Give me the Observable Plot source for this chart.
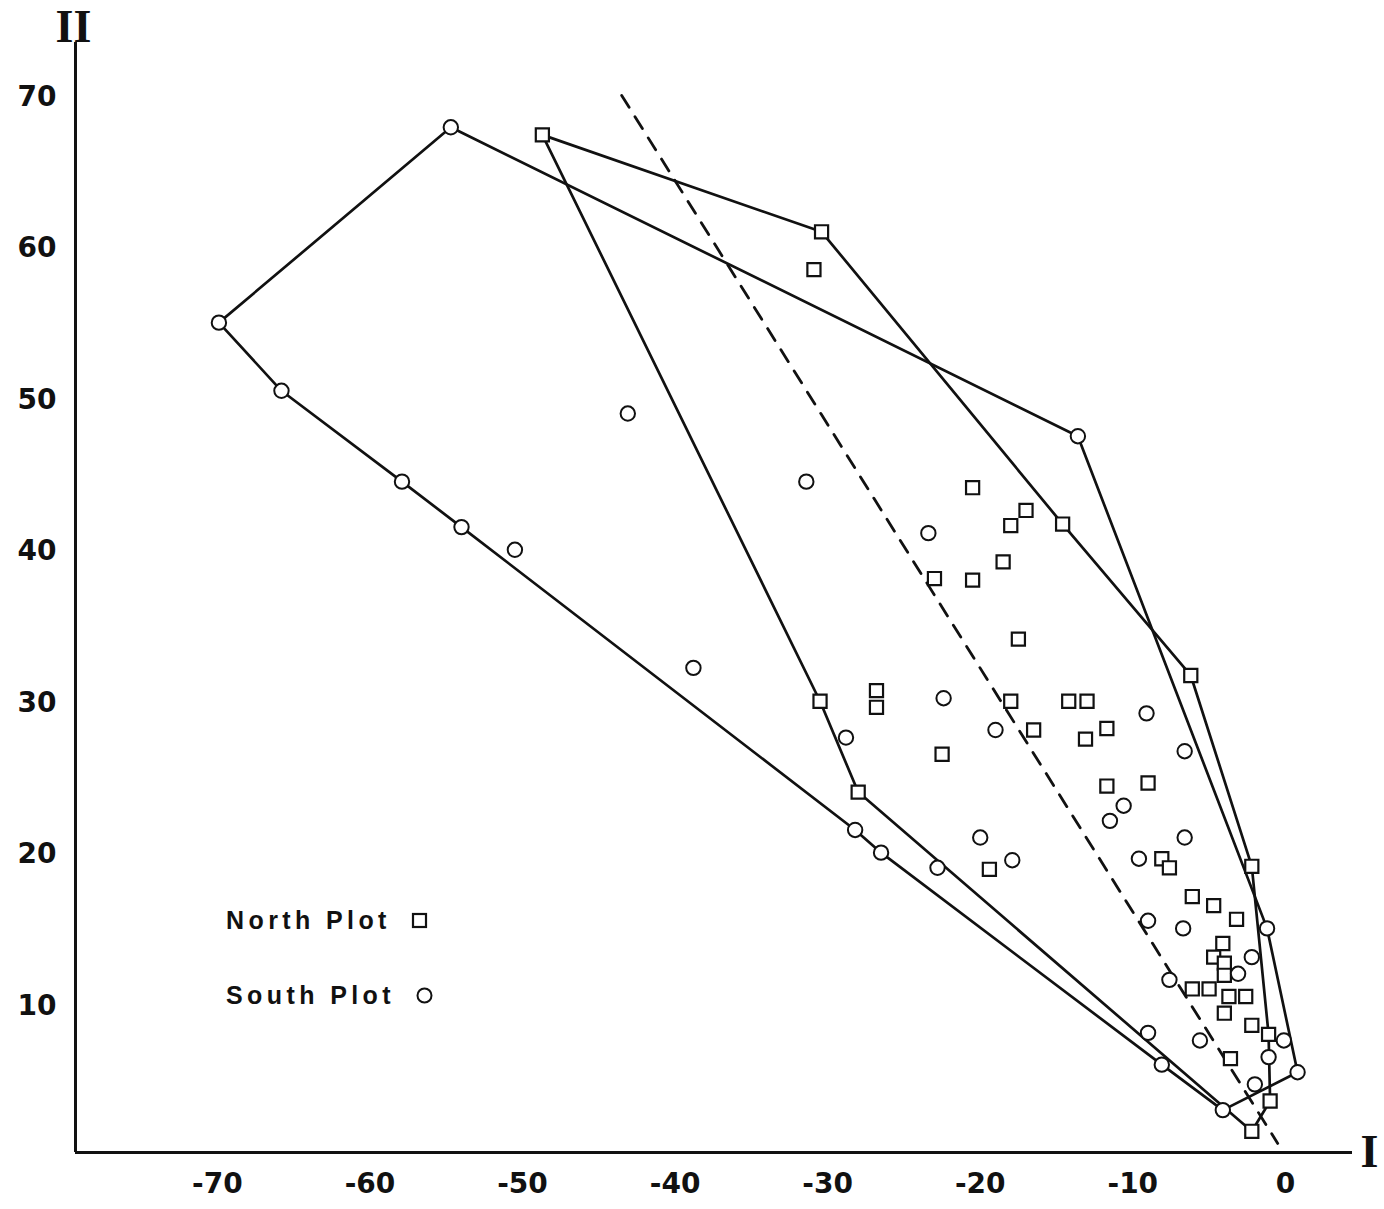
<!DOCTYPE html>
<html><head><meta charset="utf-8">
<script src="https://cdn.jsdelivr.net/npm/d3@7"></script>
<script src="https://cdn.jsdelivr.net/npm/@observablehq/plot@0.6"></script>
<style>
body{margin:0;background:#fff;}
#wrap{position:relative;width:1384px;height:1209px;}
#legend{position:absolute;left:226px;top:0;font-family:"Liberation Sans",Arial,sans-serif;font-weight:bold;font-size:25px;letter-spacing:4.4px;color:#111;}
.row{position:absolute;left:0;white-space:nowrap;display:flex;align-items:center;height:30px;}
.row svg{margin-left:20px;}
</style></head><body><div id="wrap"></div>
<script>
// Axis ticks
const xTicks = [-70, -60, -50, -40, -30, -20, -10, 0];
const yTicks = [10, 20, 30, 40, 50, 60, 70];

// North Plot (squares)
const northX = [-48.7,-30.4,-30.9,-20.5,-17.0,-18.0,-14.6,-18.5,-23.0,-20.5,-17.5,-26.8,-26.8,-30.5,-18.0,-14.2,-13.0,-16.5,-11.7,-13.1,-22.5,-11.7,-9.0,-28.0,-19.4,-8.1,-7.6,-2.2,-6.2,-6.1,-4.7,-3.2,-4.1,-4.7,-4.0,-4.0,-6.1,-5.0,-3.7,-2.6,-4.0,-2.2,-1.1,-3.6,-1.0,-2.2];
const northY = [67.5,61.1,58.6,44.2,42.7,41.7,41.8,39.3,38.2,38.1,34.2,30.8,29.7,30.1,30.1,30.1,30.1,28.2,28.3,27.6,26.6,24.5,24.7,24.1,19.0,19.7,19.1,19.2,31.8,17.2,16.6,15.7,14.1,13.2,12.8,12.0,11.1,11.1,10.6,10.6,9.5,8.7,8.1,6.5,3.7,1.7];

// South Plot (circles)
const southX = [-69.9,-54.7,-65.8,-57.9,-54.0,-50.5,-43.1,-38.8,-31.4,-23.4,-22.4,-28.8,-19.0,-9.1,-6.6,-10.6,-11.5,-20.0,-17.9,-9.6,-6.6,-28.2,-26.5,-22.8,-13.6,-9.0,-6.7,-1.2,-2.2,-3.1,-7.6,-9.0,-5.6,-0.1,-1.1,-8.1,0.8,-2.0,-4.1];
const southY = [55.1,68.0,50.6,44.6,41.6,40.1,49.1,32.3,44.6,41.2,30.3,27.7,28.2,29.3,26.8,23.2,22.2,21.1,19.6,19.7,21.1,21.6,20.1,19.1,47.6,15.6,15.1,15.1,13.2,12.1,11.7,8.2,7.7,7.7,6.6,6.1,5.6,4.8,3.1];

// Enclosing polygons (vertex order)
const northHullX = [-48.7,-30.4,-14.6,-6.2,-2.2,-1.1,-1.0,-2.2,-28.0,-30.5,-48.7];
const northHullY = [67.5,61.1,41.8,31.8,19.2,8.1,3.7,1.7,24.1,30.1,67.5];
const southHullX = [-69.9,-54.7,-13.6,-1.2,0.8,-4.1,-8.1,-26.5,-28.2,-54.0,-57.9,-65.8,-69.9];
const southHullY = [55.1,68.0,47.6,15.1,5.6,3.1,6.1,20.1,21.6,41.6,44.6,50.6,55.1];

// Dashed discriminant line
const dashX = [-43.5, -0.5];
const dashY = [70.1, 0.9];

const xDomain = [-79.3, 4.4];
const yDomain = [0.3, 73.6];

const zip = (xs, ys) => xs.map((x, i) => ({x, y: ys[i]}));
const north = zip(northX, northY);
const south = zip(southX, southY);
const northHull = zip(northHullX, northHullY);
const southHull = zip(southHullX, southHullY);
const dashed = zip(dashX, dashY);

const ink = "#111";
const chart = Plot.plot({
  width: 1384, height: 1209,
  marginLeft: 75, marginRight: 32, marginTop: 42, marginBottom: 57,
  style: {background: "white", color: ink, fontFamily: "'DejaVu Sans', sans-serif", fontSize: "28px", fontWeight: "bold", overflow: "visible"},
  x: {domain: xDomain, ticks: xTicks, tickSize: 0, tickPadding: 21, tickFormat: d => String(d), label: null},
  y: {domain: yDomain, ticks: yTicks, tickSize: 0, tickPadding: 19, tickFormat: d => String(d), label: null},
  marks: [
    Plot.ruleY([yDomain[0]], {stroke: ink, strokeWidth: 3}),
    Plot.ruleX([xDomain[0]], {stroke: ink, strokeWidth: 3}),
    Plot.line(dashed, {x: "x", y: "y", stroke: ink, strokeWidth: 2.8, strokeDasharray: "14,11"}),
    Plot.line(northHull, {x: "x", y: "y", stroke: ink, strokeWidth: 2.7}),
    Plot.line(southHull, {x: "x", y: "y", stroke: ink, strokeWidth: 2.7}),
    Plot.dot(north, {x: "x", y: "y", symbol: "square", r: 7.4, fill: "white", stroke: ink, strokeWidth: 2.2}),
    Plot.dot(south, {x: "x", y: "y", symbol: "circle", r: 7.2, fill: "white", stroke: ink, strokeWidth: 2}),
    Plot.text(["II"], {text: d => d, frameAnchor: "top-left", textAnchor: "middle", lineAnchor: "bottom", dx: -2, dy: -1, fontFamily: "'Liberation Serif', serif", fontSize: 46, fontWeight: "bold", fill: ink}),
    Plot.text(["I"], {text: d => d, frameAnchor: "bottom-right", textAnchor: "start", lineAnchor: "middle", dx: 8, dy: 0, fontFamily: "'Liberation Serif', serif", fontSize: 46, fontWeight: "bold", fill: ink})
  ]
});

const wrap = document.getElementById("wrap");
wrap.appendChild(chart);

// Legend
const legend = document.createElement("div");
legend.id = "legend";
legend.innerHTML = `
  <div class="row" style="top:905px">North Plot<svg width="17" height="17"><rect x="2" y="2" width="13" height="13" fill="white" stroke="${ink}" stroke-width="2.2"/></svg></div>
  <div class="row" style="top:980px">South Plot<svg width="19" height="19"><circle cx="9.5" cy="9.5" r="7" fill="white" stroke="${ink}" stroke-width="2"/></svg></div>`;
wrap.appendChild(legend);
</script>
</body></html>
